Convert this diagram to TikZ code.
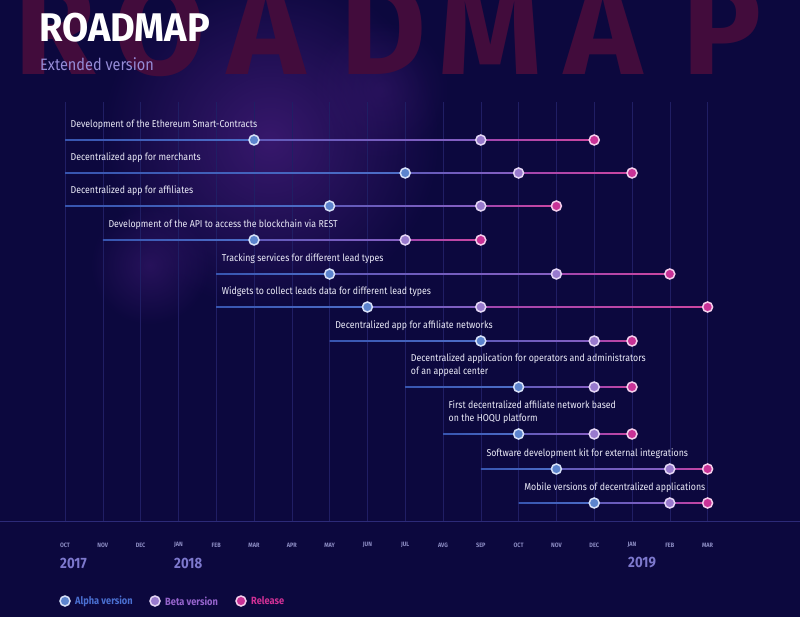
\documentclass[tikz,border=0pt]{standalone}
\usepackage{fontspec}
\setmainfont{Fira Sans}
\newfontfamily\labfont{Fira Sans}[FakeStretch=0.88]
\newfontfamily\titlefont{Fira Sans}[FakeStretch=0.95]
\newfontfamily\bigfont{Fira Sans}
\usetikzlibrary{calc,fadings}
\definecolor{bg}{RGB}{12,8,62}
\definecolor{glow}{RGB}{66,28,120}
\definecolor{bigletter}{RGB}{66,12,60}
\definecolor{gridc}{RGB}{32,30,100}
\definecolor{axisc}{RGB}{44,42,120}
\definecolor{monthc}{RGB}{140,140,195}
\definecolor{yearc}{RGB}{125,120,205}
\definecolor{subc}{RGB}{150,140,215}
\definecolor{taskc}{RGB}{235,235,248}
\definecolor{blueA}{RGB}{55,85,175}
\definecolor{blueB}{RGB}{78,110,200}
\definecolor{purA}{RGB}{95,90,185}
\definecolor{purB}{RGB}{135,95,195}
\definecolor{pinkA}{RGB}{160,70,175}
\definecolor{pinkB}{RGB}{205,70,160}
\definecolor{alphaf}{RGB}{92,132,205}
\definecolor{alphad}{RGB}{215,225,248}
\definecolor{betaf}{RGB}{152,122,205}
\definecolor{betad}{RGB}{228,214,245}
\definecolor{relf}{RGB}{200,50,150}
\definecolor{reld}{RGB}{245,205,235}
\definecolor{alphat}{RGB}{74,112,210}
\definecolor{betat}{RGB}{150,100,205}
\definecolor{relt}{RGB}{210,48,150}
\tikzfading[name=glowfade, inner color=transparent!0, outer color=transparent!100]
\tikzset{
  msdot/.style={circle, minimum size=10pt, inner sep=0pt, line width=1.5pt},
  msalpha/.style={msdot, fill=alphaf, draw=alphad},
  msbeta/.style={msdot, fill=betaf, draw=betad},
  msrel/.style={msdot, fill=relf, draw=reld},
  tasklabel/.style={anchor=south west, inner sep=0pt, align=left, text=taskc,
    font=\labfont\fontsize{10}{13}\selectfont},
  monthlabel/.style={inner sep=0pt, text=monthc, font=\labfont\bfseries\fontsize{6.3}{7}\selectfont},
  yearlabel/.style={anchor=west, inner sep=0pt, text=yearc, font=\labfont\bfseries\fontsize{15}{16}\selectfont},
  legtext/.style={anchor=west, inner sep=0pt, font=\labfont\bfseries\fontsize{10.5}{12}\selectfont},
  bigl/.style={anchor=base, inner sep=0pt, text=bigletter, font=\bigfont\bfseries\fontsize{132}{132}\selectfont},
}
\begin{document}
\begin{tikzpicture}[x=1pt,y=-1pt]
\useasboundingbox (0,0) rectangle (800,617);
\clip (0,0) rectangle (800,617);
\fill[bg] (0,0) rectangle (800,617);
% nebula glow
\fill[glow, path fading=glowfade, fill opacity=0.8] (270,140) circle (170);
\fill[glow, path fading=glowfade, fill opacity=0.5] (150,265) circle (60);
\fill[glow, path fading=glowfade, fill opacity=0.35] (380,90) circle (70);
% large background letters
\foreach \L/\X [count=\k] in {R/55,O/160,A/266,D/383,M/490,A/603,P/722}
  \node[bigl] (big\k) at (\X,75) {\L};
% title
\node[anchor=base west, inner sep=0pt, text=white, font=\titlefont\bfseries\fontsize{40}{42}\selectfont] (title) at (39,42) {ROADMAP};
\node[anchor=base west, inner sep=0pt, text=subc, font=\labfont\fontsize{16.5}{18}\selectfont] (subtitle) at (40,71) {Extended version};
% grid
\foreach \m in {0,...,17}
  \draw[gridc, line width=0.6pt] ({65+37.8*\m},102) -- ({65+37.8*\m},521);
\draw[axisc, line width=0.8pt] (0,521) -- (800,521);
% months
\foreach \mm [count=\i from 0] in {OCT,NOV,DEC,JAN,FEB,MAR,APR,MAY,JUN,JUL,AVG,SEP,OCT,NOV,DEC,JAN,FEB,MAR}
  \node[monthlabel] (mon\i) at ({65+37.8*\i},545) {\mm};
\node[yearlabel] (y2017) at (60,563) {2017};
\node[yearlabel] (y2018) at (174,563) {2018};
\node[yearlabel] (y2019) at (628,563) {2019};
% rows
\foreach \r/\ly/\s/\a/\b/\c/\t in {
 1/140/0/5/11/14/{Development of the Ethereum Smart-Contracts},
 2/173/0/9/12/15/{Decentralized app for merchants},
 3/206/0/7/11/13/{Decentralized app for affiliates},
 4/240/1/5/9/11/{Development of the API to access the blockchain via REST},
 5/274/4/7/13/16/{Tracking services for different lead types},
 6/307/4/8/11/17/{Widgets to collect leads data for different lead types},
 7/341/7/11/14/15/{Decentralized app for affiliate networks},
 8/387/9/12/14/15/{Decentralized application for operators and administrators\\of an appeal center},
 9/434/10/12/14/15/{First decentralized affiliate network based\\on the HOQU platform},
 10/469/11/13/16/17/{Software development kit for external integrations},
 11/503/12/14/16/17/{Mobile versions of decentralized applications}}
{
  \coordinate (s\r) at ({65+37.8*\s},\ly);
  \coordinate (pa\r) at ({65+37.8*\a},\ly);
  \coordinate (pb\r) at ({65+37.8*\b},\ly);
  \coordinate (pc\r) at ({65+37.8*\c},\ly);
  \shade[left color=blueA, right color=blueB] ($(s\r)+(0,-0.9)$) rectangle ($(pa\r)+(0,0.9)$);
  \shade[left color=purA, right color=purB] ($(pa\r)+(0,-0.9)$) rectangle ($(pb\r)+(0,0.9)$);
  \shade[left color=pinkA, right color=pinkB] ($(pb\r)+(0,-0.9)$) rectangle ($(pc\r)+(0,0.9)$);
  \node[msalpha] (a\r) at (pa\r) {};
  \node[msbeta] (b\r) at (pb\r) {};
  \node[msrel] (c\r) at (pc\r) {};
  \node[tasklabel] (t\r) at ($(s\r)+(5.5,-10.5)$) {\t};
}
% legend
\node[msalpha] (la) at (65,601) {};
\node[legtext, text=alphat] (lat) at (75,601) {Alpha version};
\node[msbeta] (lb) at (155,601) {};
\node[legtext, text=betat] (lbt) at (165,601) {Beta version};
\node[msrel] (lc) at (241,601) {};
\node[legtext, text=relt] (lct) at (251,601) {Release};
\end{tikzpicture}
\end{document}
